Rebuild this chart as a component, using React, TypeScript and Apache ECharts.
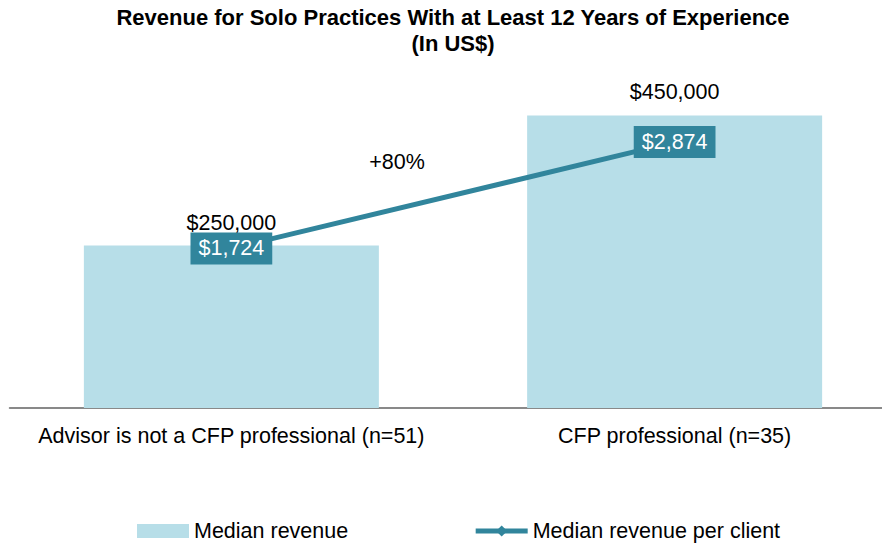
import React, { useEffect, useRef } from "react";
import * as echarts from "echarts";

const categories = ["Advisor is not a CFP professional (n=51)", "CFP professional (n=35)"];
const medianRevenue = [250000, 450000];
const revenuePerClient = [1724, 2874];
const seriesNames = ["Median revenue", "Median revenue per client"];
const titleText = "Revenue for Solo Practices With at Least 12 Years of Experience\n(In US$)";
const changeText = "+80%";

const FONT = "'Liberation Sans', Arial, sans-serif";
const TEAL = "#31859C";
const LIGHT = "#B7DEE8";
const FS = 21.5;

const fmt = (v: number) => "$" + v.toLocaleString("en-US");

export default function App() {
  const ref = useRef<HTMLDivElement>(null);
  useEffect(() => {
    if (!ref.current) return;
    const chart = echarts.init(ref.current, undefined, { renderer: "svg" });
    chart.setOption({
      animation: false,
      backgroundColor: "#ffffff",
      textStyle: { fontFamily: FONT },
      legend: {
        left: 137,
        top: 520,
        padding: 0,
        itemWidth: 52,
        itemHeight: 14,
        itemGap: 125,
        textStyle: { fontFamily: FONT, fontSize: FS, color: "#000" },
        data: [
          { name: seriesNames[0], icon: "rect" },
          { name: seriesNames[1], lineStyle: { width: 5, color: TEAL } },
        ],
      },
      grid: {
        left: 9.75,
        right: -14.25,
        top: 61,
        bottom: 138,
        containLabel: false,
        outerBoundsMode: "none",
      },
      xAxis: {
        type: "category",
        data: categories,
        axisLine: { show: true, lineStyle: { color: "#898989", width: 2 } },
        axisTick: { show: false },
        axisLabel: { interval: 0, fontFamily: FONT, fontSize: FS, color: "#000", margin: 17 },
      },
      yAxis: [
        { type: "value", min: 0, max: 533846, show: false, splitLine: { show: false } },
        { type: "value", min: 0, max: 3750, show: false, splitLine: { show: false } },
      ],
      graphic: [
        {
          type: "text",
          x: 453,
          y: 4,
          style: {
            text: titleText,
            font: `bold 22px ${FONT}`,
            lineHeight: 26,
            fill: "#000",
            textAlign: "center",
            textVerticalAlign: "top",
          },
        },
        {
          type: "text",
          x: 397,
          y: 162,
          style: { text: changeText, font: `${FS}px ${FONT}`, fill: "#000", textAlign: "center", textVerticalAlign: "middle" },
        },
      ],
      series: [
        {
          name: seriesNames[0],
          type: "bar",
          data: medianRevenue,
          barWidth: 295,
          itemStyle: { color: LIGHT },
          label: {
            show: true,
            position: "top",
            distance: 12,
            formatter: (p: any) => fmt(p.value),
            fontFamily: FONT,
            fontSize: FS,
            color: "#000",
          },
        },
        {
          name: seriesNames[1],
          type: "line",
          yAxisIndex: 1,
          data: revenuePerClient,
          symbol: "diamond",
          symbolSize: 10,
          lineStyle: { color: TEAL, width: 5 },
          itemStyle: { color: TEAL },
          label: {
            show: true,
            position: "inside",
            formatter: (p: any) => fmt(p.value),
            fontFamily: FONT,
            fontSize: FS,
            color: "#fff",
            backgroundColor: TEAL,
            padding: [5, 8, 5, 8],
          },
        },
      ],
    });
    return () => chart.dispose();
  }, []);
  return <div ref={ref} style={{ position: "absolute", left: 0, top: 0, width: 882, height: 546 }} />;
}
